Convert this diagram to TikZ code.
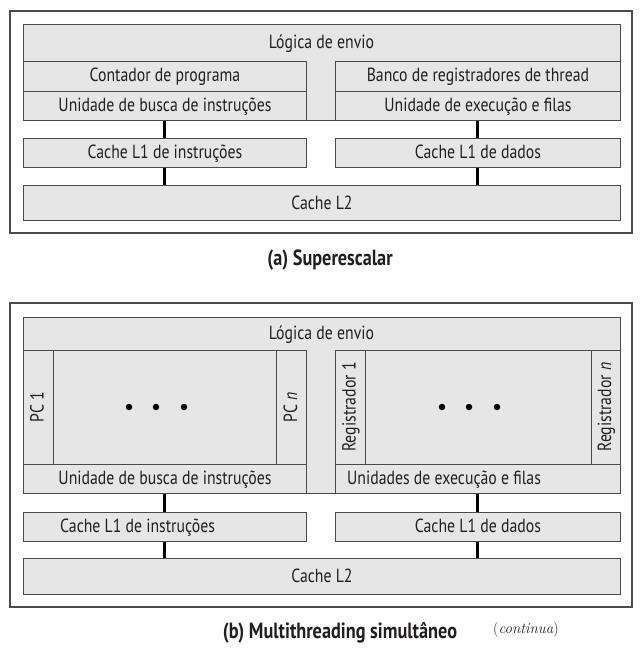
\documentclass[tikz,border=0pt]{standalone}
\usepackage{fontspec}
\setsansfont{PT Sans}[FakeStretch=0.83]
\usepackage{tikz}
\usetikzlibrary{positioning}

\definecolor{cinza}{HTML}{E6E6E6}
\definecolor{borda}{HTML}{4A4A4A}
\definecolor{texto}{HTML}{231F20}

\begin{document}
\begin{tikzpicture}[x=1pt,y=-1pt,
	fonte/.style={font=\sffamily\fontsize{19}{19}\selectfont, text=texto},
	bloco/.style={draw=borda, fill=cinza, line width=0.9pt, inner sep=0pt, anchor=north west, text height=14pt, text depth=3pt, fonte},
	vertical/.style={bloco, anchor=center, rotate=90, minimum width=114pt, minimum height=30pt},
	rotulo/.style={inner sep=0pt, text height=14pt, text depth=3pt, fonte},
	fundo/.style={draw=borda, fill=cinza, line width=0.9pt},
	moldura/.style={draw=black!70, line width=1.2pt},
	conexao/.style={draw=black, line width=3pt},
	ponto/.style={circle, fill=black, inner sep=0pt, minimum size=6.5pt},
	legenda/.style={font=\sffamily\bfseries\fontsize{22}{22}\selectfont, text=texto}]
			\useasboundingbox (0,0) rectangle (642,654);
			
			% (a) superescalar
			
			\draw[moldura] (10,11) rectangle (632,233);
			\filldraw[fundo] (23,24) rectangle (620,120);
			\node[rotulo] (envioA) at (321.5,42.5) {Lógica de envio};
			\node[bloco, minimum width=283pt, minimum height=30pt] (contador) at (23,61) {Contador de programa};
			\node[bloco, minimum width=283pt, minimum height=29pt] (buscaA) at (23,91) {Unidade de busca de instruções};
			\node[bloco, minimum width=285pt, minimum height=30pt] (banco) at (335,61) {Banco de registradores de thread};
			\node[bloco, minimum width=285pt, minimum height=29pt] (execA) at (335,91) {Unidade de execução e filas};
			\node[bloco, minimum width=283pt, minimum height=29pt] (instA) at (23,138) {Cache L1 de instruções};
			\node[bloco, minimum width=285pt, minimum height=29pt] (dadosA) at (335,138) {Cache L1 de dados};
			\node[bloco, minimum width=597pt, minimum height=35pt, text height=16pt] (cacheA) at (23,185) {Cache L2};
			\draw[conexao] (buscaA) -- (instA);
			\draw[conexao] (execA) -- (dadosA);
			\draw[conexao] (instA.south) -- (instA.south |- cacheA.north);
			\draw[conexao] (dadosA.south) -- (dadosA.south |- cacheA.north);
			\node[legenda] (legA) at (330,260) {(a) Superescalar};
			
			% (b) multithreading
			
			\draw[moldura] (10,303) rectangle (632,607);
			\filldraw[fundo] (23,317) rectangle (620,493);
			\node[rotulo] (envioB) at (321.5,334) {Lógica de envio};
			\node[vertical] (pc1) at (38,407) {PC 1};
			\node[bloco, minimum width=224pt, minimum height=114pt] (pcs) at (53,350) {};
			\node[vertical] (pcn) at (291.5,407) {PC \textit{n}};
			\node[vertical] (reg1) at (350,407) {Registrador 1};
			\node[bloco, minimum width=226pt, minimum height=114pt] (regs) at (365,350) {};
			\node[vertical, minimum height=29pt] (regn) at (605.5,407) {Registrador \textit{n}};
			\foreach \i/\x in {1/129,2/156,3/184} {
				\node[ponto] (pcp\i) at (\x,407) {};
			}
			\foreach \i/\x in {1/442,2/469,3/497} {
				\node[ponto] (regp\i) at (\x,407) {};
			}
			\node[bloco, minimum width=283pt, minimum height=29pt] (buscaB) at (23,464) {Unidade de busca de instruções};
			\node[bloco, minimum width=285pt, minimum height=29pt] (execB) at (335,464) {};
			\node[rotulo, right=12pt of execB.west] (execBt) {Unidades de execução e filas};
			\node[bloco, minimum width=283pt, minimum height=29pt] (instB) at (23,512) {};
			\node[rotulo, right=37pt of instB.west] (instBt) {Cache L1 de instruções};
			\node[bloco, minimum width=285pt, minimum height=29pt] (dadosB) at (335,512) {Cache L1 de dados};
			\node[bloco, minimum width=597pt, minimum height=36pt, text height=16pt] (cacheB) at (23,558) {Cache L2};
			\draw[conexao] (buscaB) -- (instB);
			\draw[conexao] (execB) -- (dadosB);
			\draw[conexao] (instB.south) -- (instB.south |- cacheB.north);
			\draw[conexao] (dadosB.south) -- (dadosB.south |- cacheB.north);
			\node[legenda] (legB) at (340,633) {(b) Multithreading simultâneo};
			\node[font=\rmfamily\fontsize{15}{15}\selectfont, text=texto] (continua) at (526,630) {(\textit{continua})};
			
		\end{tikzpicture}
\end{document}
